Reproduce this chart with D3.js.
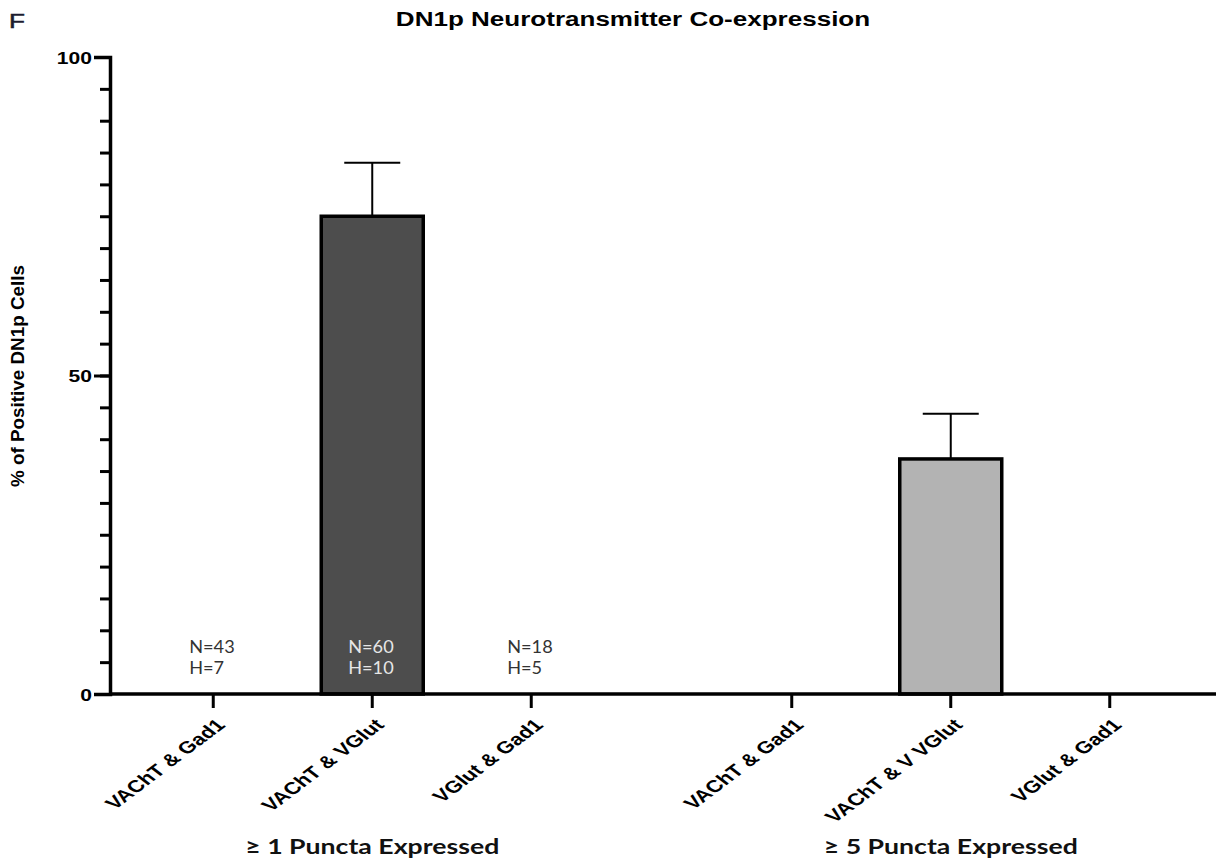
<!DOCTYPE html>
<html>
<head>
<meta charset="utf-8">
<script src="https://cdn.jsdelivr.net/npm/d3@7"></script>
<style>
  body { margin: 0; background: #fff; }
  svg { display: block; }
</style>
</head>
<body>
<svg id="chart" width="1221" height="863"></svg>
<script>
const groups = ["\u2265 1 Puncta Expressed", "\u2265 5 Puncta Expressed"];
const categories = ["VAChT & Gad1", "VAChT & VGlut", "VGlut & Gad1"];
const categories5 = ["VAChT & Gad1", "VAChT & V VGlut", "VGlut & Gad1"];
const means1 = [0, 75.0, 0];
const errors1 = [0, 8.4, 0];
const means5 = [0, 36.9, 0];
const errors5 = [0, 7.1, 0];
const nLabels = ["N=43", "N=60", "N=18"];
const hLabels = ["H=7", "H=10", "H=5"];
const majorTicks = [0, 50, 100];

const svg = d3.select("#chart");
const barFill = ["#4d4d4d", "#b3b3b3"];
const stretch = 1.24; // the picture's text is a bit wide
const arial = "Arial, 'Liberation Sans', sans-serif";
const calibri = "Lato, 'Open Sans', sans-serif";

const y = d3.scaleLinear().domain([0, 100]).range([694, 57]);
const x0 = d3.scaleBand().domain(groups).range([83, 1240]);
const x1 = d3.scalePoint().domain([0, 1, 2]).range([-159, 159]);
const xPos = (g, i) => x0(g) + x0.bandwidth() / 2 + x1(i);

const rows = [];
groups.forEach((g, gi) => {
  const names = gi === 0 ? categories : categories5;
  const m = gi === 0 ? means1 : means5;
  const e = gi === 0 ? errors1 : errors5;
  names.forEach((name, i) => {
    rows.push({ group: g, gi: gi, i: i, name: name, mean: m[i], err: e[i] });
  });
});

const barW = 102;
const capW = 56;

// error bars first, bars drawn on top
const errs = svg.append("g").selectAll("g")
  .data(rows.filter(d => d.mean > 0))
  .enter().append("g");

errs.append("line")
  .attr("x1", d => xPos(d.group, d.i))
  .attr("x2", d => xPos(d.group, d.i))
  .attr("y1", d => y(d.mean))
  .attr("y2", d => y(d.mean + d.err))
  .attr("stroke", "#000").attr("stroke-width", 2);

errs.append("line")
  .attr("x1", d => xPos(d.group, d.i) - capW / 2)
  .attr("x2", d => xPos(d.group, d.i) + capW / 2)
  .attr("y1", d => y(d.mean + d.err))
  .attr("y2", d => y(d.mean + d.err))
  .attr("stroke", "#000").attr("stroke-width", 2);

svg.append("g").selectAll("rect")
  .data(rows.filter(d => d.mean > 0))
  .enter().append("rect")
    .attr("x", d => xPos(d.group, d.i) - barW / 2)
    .attr("y", d => y(d.mean))
    .attr("width", barW)
    .attr("height", d => y(0) - y(d.mean))
    .attr("fill", d => barFill[d.gi])
    .attr("stroke", "#000")
    .attr("stroke-width", 3.5);

// N / H annotations for the first group
const ann = svg.append("g")
  .attr("font-family", calibri)
  .attr("font-size", 16.5);
nLabels.forEach((t, i) => {
  const xx = xPos(groups[0], i) - 24;
  const col = i === 1 ? "#e6e6e6" : "#333";
  ann.append("text").attr("transform", `translate(${xx},653) scale(1.1,1)`).attr("fill", col).text(t);
  ann.append("text").attr("transform", `translate(${xx},674) scale(1.1,1)`).attr("fill", col).text(hLabels[i]);
});

// y axis with minor ticks
const yMinor = svg.append("g")
  .attr("transform", "translate(110,0)")
  .call(d3.axisLeft(y).tickValues(d3.range(0, 101, 5)).tickSize(10).tickFormat(""));
yMinor.select(".domain").remove();
yMinor.selectAll("line").attr("stroke-width", 3);

const yAxis = svg.append("g")
  .attr("transform", "translate(110,0)")
  .call(d3.axisLeft(y).tickValues(majorTicks).tickSize(16).tickFormat(""));
yAxis.select(".domain").attr("stroke-width", 3.5);
yAxis.selectAll("line").attr("stroke-width", 3);
yAxis.selectAll(".tick").append("text")
  .attr("transform", `translate(-18,0) scale(${stretch},1)`)
  .attr("dy", "0.36em")
  .attr("text-anchor", "end")
  .attr("font-family", arial)
  .attr("font-weight", "bold")
  .attr("font-size", 17)
  .attr("fill", "#000")
  .text(d => d);

// x axis
const xAxisScale = d3.scaleOrdinal()
  .domain(rows.map((d, k) => k))
  .range(rows.map(d => xPos(d.group, d.i)));
const xAxis = svg.append("g").attr("transform", "translate(0,694)");
xAxis.append("line")
  .attr("x1", 110).attr("x2", 1216).attr("y1", 0).attr("y2", 0)
  .attr("stroke", "#000").attr("stroke-width", 3.5);
xAxis.selectAll(".tick")
  .data(rows)
  .enter().append("line")
    .attr("x1", (d, k) => xAxisScale(k))
    .attr("x2", (d, k) => xAxisScale(k))
    .attr("y1", 0).attr("y2", 14)
    .attr("stroke", "#000").attr("stroke-width", 3);
xAxis.selectAll("text.cat")
  .data(rows)
  .enter().append("text")
    .attr("class", "cat")
    .attr("text-anchor", "end")
    .attr("transform", (d, k) => `translate(${xAxisScale(k) + 13},${32}) scale(1.32,1) rotate(-45)`)
    .attr("font-family", arial)
    .attr("font-weight", "bold")
    .attr("font-size", 17)
    .attr("fill", "#000")
    .text(d => d.name);

// group labels
svg.append("g").selectAll("text")
  .data(groups)
  .enter().append("text")
    .attr("transform", d => `translate(${x0(d) + x0.bandwidth() / 2},854) scale(${stretch},1)`)
    .attr("text-anchor", "middle")
    .attr("font-family", calibri)
    .attr("font-weight", "bold")
    .attr("font-size", 21.5)
    .attr("fill", "#111")
    .text(d => d);

// y label
svg.append("text")
  .attr("transform", "translate(24,376) rotate(-90)")
  .attr("text-anchor", "middle")
  .attr("font-family", arial)
  .attr("font-weight", "bold")
  .attr("font-size", 17.5)
  .attr("textLength", 222)
  .attr("lengthAdjust", "spacingAndGlyphs")
  .text("% of Positive DN1p Cells");

// title and panel letter
svg.append("text")
  .attr("transform", `translate(633,26) scale(${stretch},1)`)
  .attr("text-anchor", "middle")
  .attr("font-family", arial)
  .attr("font-weight", "bold")
  .attr("font-size", 21)
  .text("DN1p Neurotransmitter Co-expression");

svg.append("text")
  .attr("transform", `translate(9,28) scale(${stretch},1)`)
  .attr("font-family", arial)
  .attr("font-size", 21)
  .attr("stroke", "#1c1c30")
  .attr("stroke-width", 0.6)
  .attr("fill", "#1c1c30")
  .text("F");
</script>
</body>
</html>
